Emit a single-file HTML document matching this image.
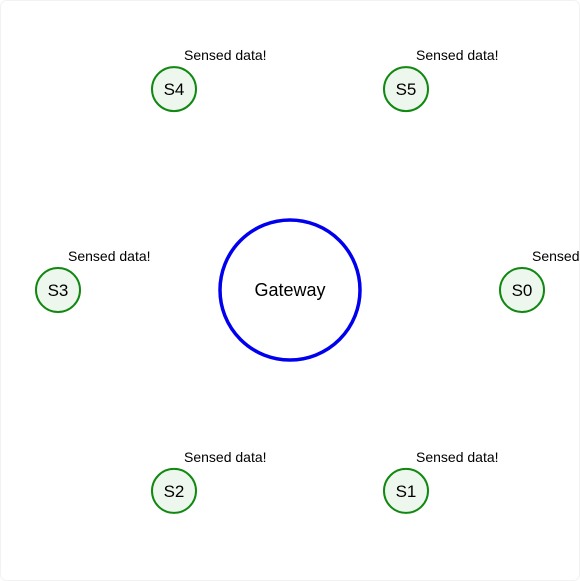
<!DOCTYPE html>
<html><head><meta charset="utf-8"><style>
html,body{margin:0;padding:0;background:#fff;}
svg{display:block;font-family:"Liberation Sans",sans-serif;}
</style></head><body>
<svg id="chart" width="580" height="581" viewBox="0 0 580 581">
<rect x="0.5" y="0.5" width="579" height="580" rx="6" fill="#fff" stroke="#f2f2f2"/>
<circle cx="290" cy="290" r="70" fill="#fff" stroke="#0000ee" stroke-width="3.5"/>
<text x="290" y="296" text-anchor="middle" font-size="18" fill="#000">Gateway</text>
</svg>
<script>
const sensorNames = ["S0","S1","S2","S3","S4","S5"];
const sensorAngles = [0,60,120,180,240,300];
const sensorMessages = ["Sensed data!","Sensed data!","Sensed data!","Sensed data!","Sensed data!","Sensed data!"];
const svg = document.getElementById('chart');
const NS = 'http://www.w3.org/2000/svg';
const cx = 290, cy = 290, orbit = 232;
function px(a){return cx + orbit*Math.cos(a*Math.PI/180);}
function py(a){return cy + orbit*Math.sin(a*Math.PI/180);}
sensorNames.forEach((n,i)=>{
  const x = px(sensorAngles[i]), y = py(sensorAngles[i]);
  const c = document.createElementNS(NS,'circle');
  c.setAttribute('cx',x);c.setAttribute('cy',y);c.setAttribute('r',22);
  c.setAttribute('fill','#eef7ee');c.setAttribute('stroke','#118811');c.setAttribute('stroke-width','2');
  
  
  svg.appendChild(c);
  const t = document.createElementNS(NS,'text');
  t.setAttribute('x',x);t.setAttribute('y',y+6);t.setAttribute('text-anchor','middle');
  t.setAttribute('font-size','17');t.textContent=n;
  
  
  svg.appendChild(t);
  const m = document.createElementNS(NS,'text');
  m.setAttribute('x',x+10);m.setAttribute('y',y-29);
  m.setAttribute('font-size','14');m.textContent=sensorMessages[i];
  
  
  svg.appendChild(m);
});
</script>
</body></html>
